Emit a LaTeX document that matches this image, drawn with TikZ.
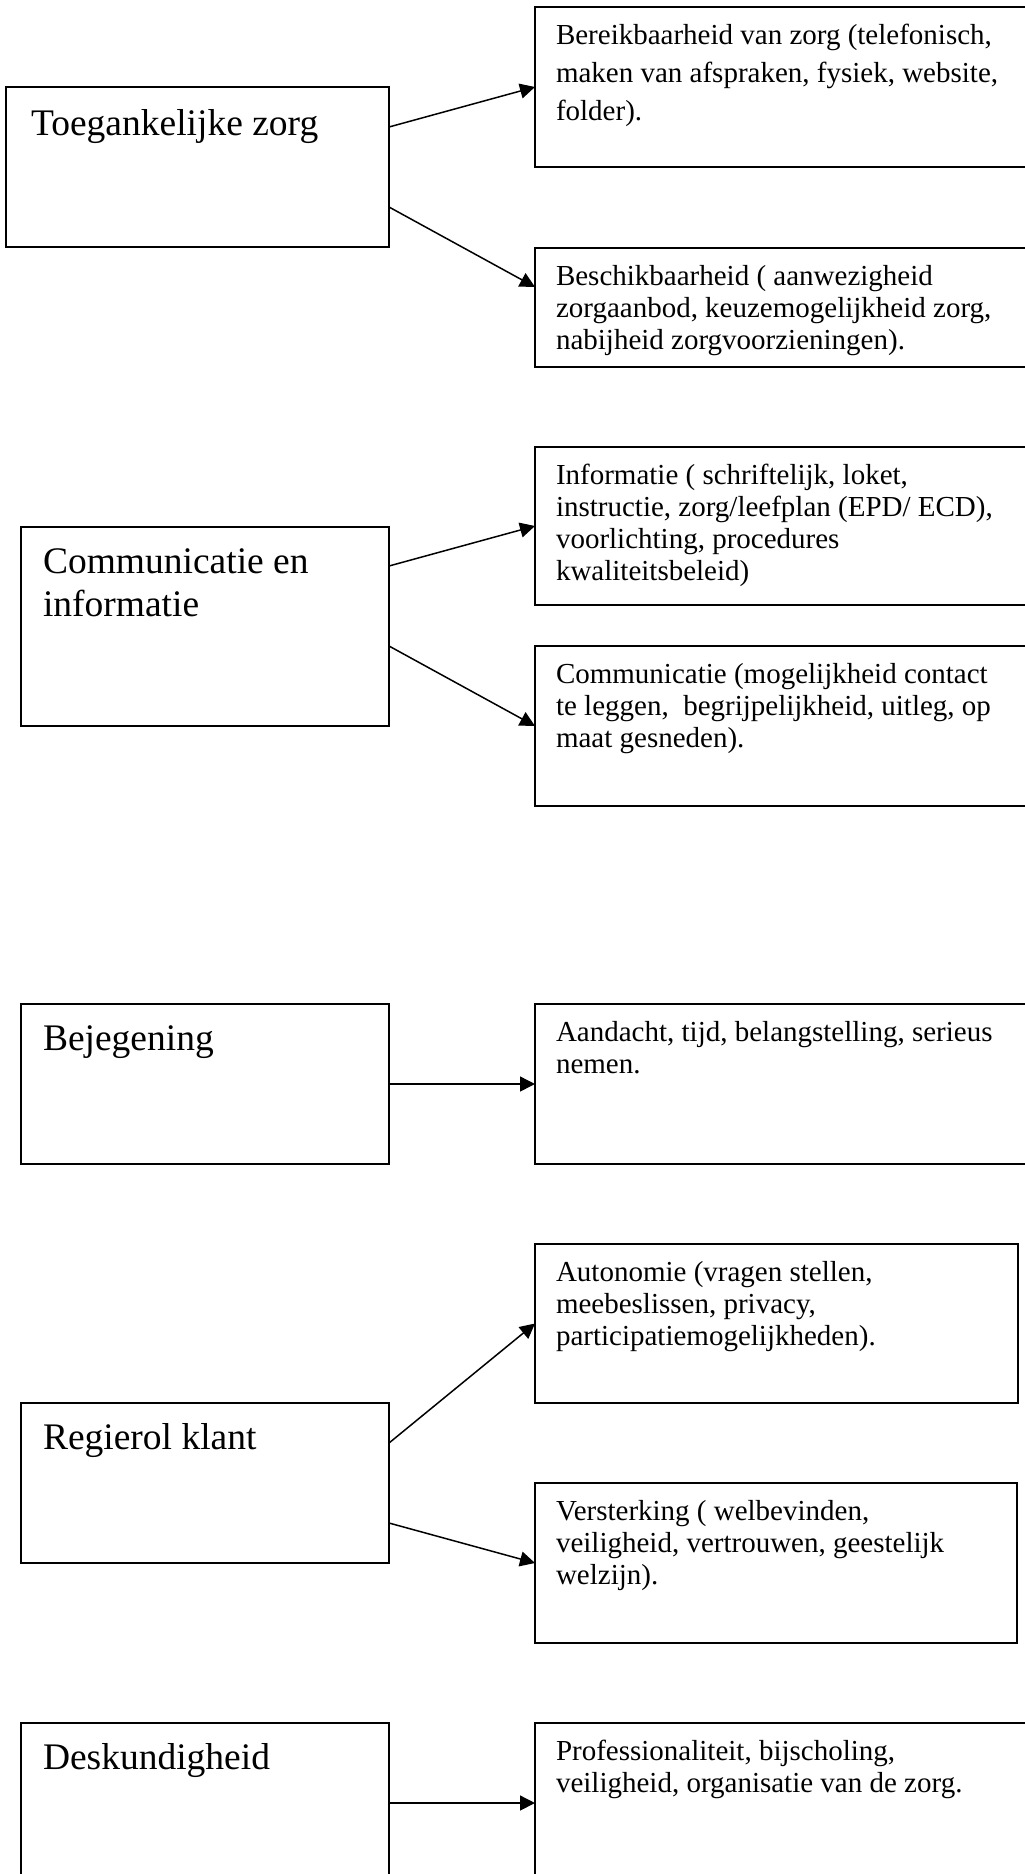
\documentclass[tikz,border=0pt]{standalone}
\usepackage{fontspec}
\setmainfont{Liberation Serif}
\usetikzlibrary{arrows.meta}
\newcommand\bxcontent[4]{\parbox[t][#1pt][t]{#2pt}{\raggedright\rule{0pt}{#3pt}#4}}
\begin{document}
\begin{tikzpicture}[x=1pt,y=-1pt,
  boxbase/.style={draw=black, line width=2pt, anchor=north west, inner ysep=0pt, outer sep=0pt},
  leftbox/.style={boxbase, inner xsep=22pt, font=\fontsize{37.5}{43}\selectfont},
  rightbox/.style={boxbase, inner xsep=21pt, font=\fontsize{29}{32}\selectfont},
  arr/.style={line width=1.5pt, -{Triangle[length=15pt,width=15pt]}}]
\useasboundingbox (0,0) rectangle (1025,1874);
\clip (0,0) rectangle (1025,1874);
\fill[white] (0,0) rectangle (1025,1874);

% group 1
\node[leftbox, inner xsep=25pt] (L1) at (6,87) {\bxcontent{160}{333}{48}{Toegankelijke zorg}};
\node[rightbox, font=\fontsize{29}{38}\selectfont] (R1a) at (535,7) {\bxcontent{160}{458}{37}{Bereikbaarheid van zorg (telefonisch,\\maken van afspraken, fysiek, website,\\folder).}};
\node[rightbox] (R1b) at (535,248) {\bxcontent{119}{458}{37}{Beschikbaarheid ( aanwezigheid\\zorgaanbod, keuzemogelijkheid zorg,\\nabijheid zorgvoorzieningen).}};

% group 2
\node[leftbox] (L2) at (21,527) {\bxcontent{199}{324}{46}{Communicatie en\\informatie}};
\node[rightbox] (R2a) at (535,447) {\bxcontent{158}{458}{37}{Informatie ( schriftelijk, loket,\\instructie, zorg/leefplan (EPD/ ECD),\\voorlichting, procedures\\kwaliteitsbeleid)}};
\node[rightbox] (R2b) at (535,646) {\bxcontent{160}{458}{37}{Communicatie (mogelijkheid contact\\te leggen,\ \ begrijpelijkheid, uitleg, op\\maat gesneden).}};

% group 3
\node[leftbox] (L3) at (21,1004) {\bxcontent{160}{324}{46}{Bejegening}};
\node[rightbox] (R3) at (535,1004) {\bxcontent{160}{458}{37}{Aandacht, tijd, belangstelling, serieus\\nemen.}};

% group 4
\node[leftbox] (L4) at (21,1403) {\bxcontent{160}{324}{46}{Regierol klant}};
\node[rightbox] (R4a) at (535,1244) {\bxcontent{159}{441}{37}{Autonomie (vragen stellen,\\meebeslissen, privacy,\\participatiemogelijkheden).}};
\node[rightbox] (R4b) at (535,1483) {\bxcontent{160}{440}{37}{Versterking ( welbevinden,\\veiligheid, vertrouwen, geestelijk\\welzijn).}};

% group 5
\node[leftbox] (L5) at (21,1723) {\bxcontent{160}{324}{46}{Deskundigheid}};
\node[rightbox] (R5) at (535,1723) {\bxcontent{160}{458}{37}{Professionaliteit, bijscholing,\\veiligheid, organisatie van de zorg.}};

% connectors
\draw[arr] ([yshift=-40pt]L1.north east) -- (R1a.west);
\draw[arr] ([yshift=40pt]L1.south east) -- ([yshift=-39pt]R1b.north west);
\draw[arr] ([yshift=-39pt]L2.north east) -- (R2a.west);
\draw[arr] ([yshift=80pt]L2.south east) -- (R2b.west);
\draw[arr] (L3.east) -- (R3.west);
\draw[arr] ([yshift=-40pt]L4.north east) -- (R4a.west);
\draw[arr] ([yshift=40pt]L4.south east) -- (R4b.west);
\draw[arr] (L5.east) -- (R5.west);
\end{tikzpicture}
\end{document}
